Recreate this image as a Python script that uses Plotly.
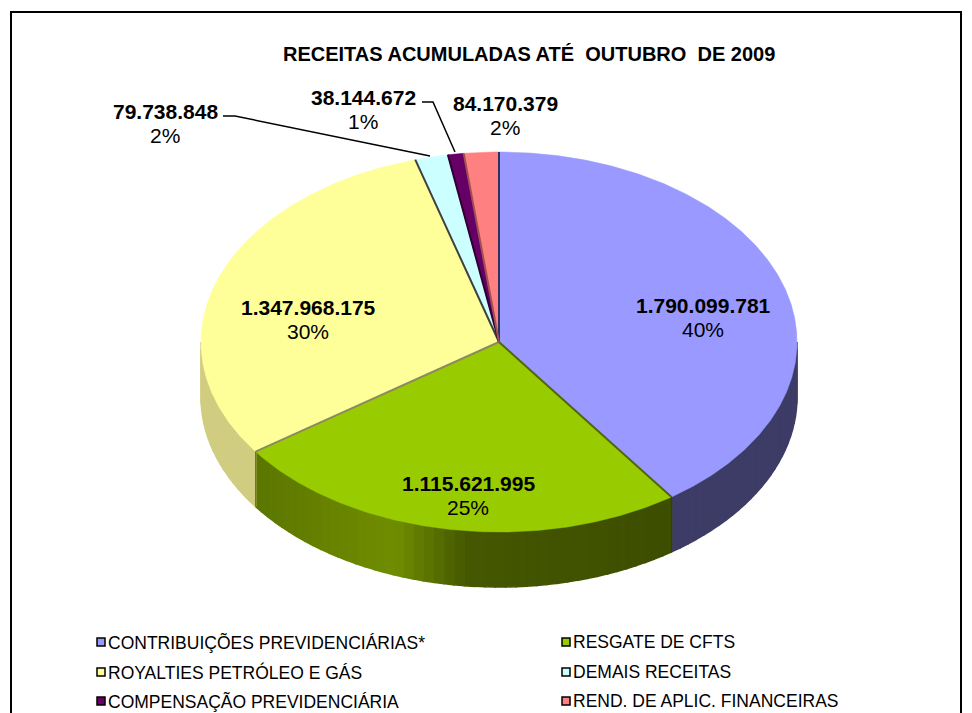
import math
import plotly.graph_objects as go

title = "RECEITAS ACUMULADAS ATÉ  OUTUBRO  DE 2009"
categories = ["CONTRIBUIÇÕES PREVIDENCIÁRIAS*", "RESGATE DE CFTS", "ROYALTIES PETRÓLEO E GÁS",
              "DEMAIS RECEITAS", "COMPENSAÇÃO PREVIDENCIÁRIA", "REND. DE APLIC. FINANCEIRAS"]
values = [1790099781, 1115621995, 1347968175, 79738848, 38144672, 84170379]
value_labels = ["1.790.099.781", "1.115.621.995", "1.347.968.175", "79.738.848", "38.144.672", "84.170.379"]
percent_labels = ["40%", "25%", "30%", "2%", "1%", "2%"]

colors = ["#9999FF", "#99CC00", "#FFFF99", "#CCFFFF", "#660066", "#FF8080"]
edge_colors = ["#2F2F60", "#55660A", "#8A8A60", "#404040", "#300030", "#A05050"]
wall_colors = ["#3C3C66", "#5F7A00", "#D0CC80", "#8AA8A8", "#400040", "#A05050"]

CX, CY, RX, RY, DEPTH = 499, 342, 298, 190, 55
label_xy = [(703, 305), (468, 483), (308, 307), (165, 111), (363, 97), (505, 103)]
legend_xy = [(101, 642), (566, 642), (101, 672), (566, 672), (101, 701), (566, 701)]
leaders = [[(223, 116), (235, 116), (430, 156)], [(422, 102), (433, 102), (455, 152)]]


def pt(deg, dy=0):
    a = math.radians(deg)
    return CX + RX * math.sin(a), CY - RY * math.cos(a) + dy


def green_wall(x):
    # olive shading of the front wall, left to right
    stops = [(255, (92, 118, 0)), (400, (112, 142, 0)), (470, (70, 88, 0)), (672, (62, 78, 0))]
    for (x0, c0), (x1, c1) in zip(stops, stops[1:]):
        if x <= x1:
            t = max(0, (x - x0) / (x1 - x0))
            return "rgb(%d,%d,%d)" % tuple(c0[i] + (c1[i] - c0[i]) * t for i in range(3))
    return "rgb(62,78,0)"


fig = go.Figure()
total = sum(values)
angles = [0]
for v in values:
    angles.append(angles[-1] + 360 * v / total)


def poly(xs, ys, color, lw=0.5):
    fig.add_trace(go.Scatter(x=xs, y=ys, mode="lines", fill="toself", fillcolor=color,
                             line=dict(color=color, width=lw), hoverinfo="skip", showlegend=False))


# walls: only the front half of the disc shows its side
for i in range(len(values)):
    a0, a1 = max(angles[i], 90), min(angles[i + 1], 270)
    if a1 <= a0:
        continue
    n = max(1, int((a1 - a0) / 2))
    for k in range(n):
        s0 = a0 + (a1 - a0) * k / n
        s1 = a0 + (a1 - a0) * (k + 1) / n
        p = [pt(s0), pt(s1), pt(s1, DEPTH), pt(s0, DEPTH)]
        col = green_wall(p[0][0]) if i == 1 else wall_colors[i]
        poly([q[0] for q in p] + [p[0][0]], [q[1] for q in p] + [p[0][1]], col, lw=1.5)

# top faces
for i in range(len(values)):
    n = max(2, int((angles[i + 1] - angles[i]) * 2))
    arc = [pt(angles[i] + (angles[i + 1] - angles[i]) * k / n) for k in range(n + 1)]
    xs = [CX] + [q[0] for q in arc] + [CX]
    ys = [CY] + [q[1] for q in arc] + [CY]
    poly(xs, ys, colors[i])

# slice edges
for i in range(len(values)):
    x, y = pt(angles[i])
    fig.add_trace(go.Scatter(x=[CX, x], y=[CY, y], mode="lines",
                             line=dict(color=edge_colors[i], width=2),
                             hoverinfo="skip", showlegend=False))
# vertical wall seams
for a in (angles[1], angles[2]):
    x, y = pt(a)
    fig.add_trace(go.Scatter(x=[x, x], y=[y, y + DEPTH], mode="lines",
                             line=dict(color="#30305A" if a == angles[1] else "#6B6B30", width=1),
                             hoverinfo="skip", showlegend=False))

# leader lines
for l in leaders:
    fig.add_trace(go.Scatter(x=[p[0] for p in l], y=[p[1] for p in l], mode="lines",
                             line=dict(color="black", width=1.5), hoverinfo="skip", showlegend=False))

# data labels
for (x, y), v, p in zip(label_xy, value_labels, percent_labels):
    fig.add_annotation(x=x, y=y, text="<b>%s</b>" % v, showarrow=False, font=dict(size=21, color="black"))
    fig.add_annotation(x=x, y=y + 24, text=p, showarrow=False, font=dict(size=21, color="black"))

# title
fig.add_annotation(x=529, y=54, text="<b>%s</b>" % title, showarrow=False, font=dict(size=20, color="black"))

# legend
for (x, y), name, c in zip(legend_xy, categories, colors):
    fig.add_trace(go.Scatter(x=[x], y=[y], mode="markers", hoverinfo="skip", showlegend=False,
                             marker=dict(symbol="square", size=8, color=c, line=dict(color="black", width=1.5))))
    fig.add_annotation(x=x + 5, y=y, text=name, showarrow=False, xanchor="left",
                       font=dict(size=17.5, color="black"))

fig.add_shape(type="rect", x0=11, y0=12, x1=961, y1=730, line=dict(color="black", width=2), layer="above")

fig.update_layout(
    width=972, height=713, margin=dict(l=0, r=0, t=0, b=0),
    paper_bgcolor="white", plot_bgcolor="white",
    font=dict(family="Liberation Sans, Arial, sans-serif"),
    xaxis=dict(range=[0, 972], visible=False, fixedrange=True),
    yaxis=dict(range=[713, 0], visible=False, fixedrange=True),
)
fig.write_html("out.html", config={"displayModeBar": False},
               post_script="document.body.style.margin='0';document.body.style.overflow='hidden';")
